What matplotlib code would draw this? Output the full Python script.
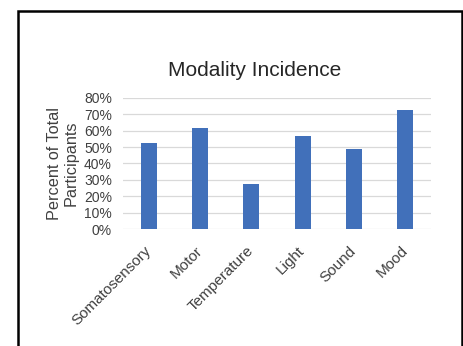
import matplotlib.pyplot as plt
from matplotlib.patches import Rectangle
from matplotlib.ticker import PercentFormatter

plt.rcParams['font.family'] = ['Liberation Sans', 'DejaVu Sans']

# Data
categories = ["Somatosensory", "Motor", "Temperature", "Light", "Sound", "Mood"]
values = [0.527, 0.615, 0.275, 0.566, 0.487, 0.729]
yticks = [0, 0.1, 0.2, 0.3, 0.4, 0.5, 0.6, 0.7, 0.8]

text_col = "#404040"

fig = plt.figure(figsize=(4.63, 3.46), dpi=100)
ax = fig.add_axes([0.2657, 0.338, 0.6653, 0.379])

x = range(len(categories))
ax.bar(x, values, width=0.313, color="#4170BA", zorder=3)

ax.set_xlim(-0.5, len(categories) - 0.5)
ax.set_ylim(0, 0.8)
ax.set_yticks(yticks)
ax.yaxis.set_major_formatter(PercentFormatter(1.0, decimals=0))
ax.grid(axis="y", color="#d9d9d9", linewidth=0.9, zorder=0)
for s in ax.spines.values():
    s.set_visible(False)
ax.tick_params(axis="both", length=0, colors=text_col)
ax.tick_params(axis="y", pad=8, labelsize=10)

ax.set_xticks(list(x))
ax.set_xticklabels(categories, rotation=45, ha="right", va="center",
                   rotation_mode="anchor", fontsize=11, color=text_col)
ax.tick_params(axis="x", pad=14)

ax.set_ylabel("Percent of Total\nParticipants", fontsize=11.7, color=text_col,
              labelpad=4, linespacing=1.15)

fig.text(0.549, 0.797, "Modality Incidence", ha="center", va="center",
         fontsize=15, color="#262626")

# outer frame
fig.patches.append(Rectangle((17.5 / 463, -0.1), 444 / 463, 1.1 - 10.5 / 346,
                             transform=fig.transFigure, fill=False,
                             edgecolor="black", linewidth=1.8))

fig.savefig("out.png", dpi=100)
